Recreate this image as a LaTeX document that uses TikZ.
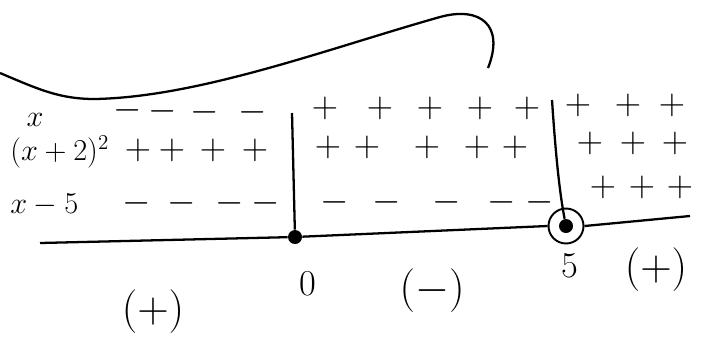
\documentclass[tikz,border=0pt]{standalone}
\usetikzlibrary{positioning}
\begin{document}
\begin{tikzpicture}[
  x=0.02cm, y=-0.02cm,
  rule/.style={line width=1.3pt},
  lbl/.style={font=\LARGE,inner sep=0pt},
  sgn/.style={font=\huge,inner sep=0pt},
  res/.style={font=\fontsize{25}{30}\selectfont,inner sep=0pt},
  pt/.style={font=\huge,inner sep=0pt},
  dot/.style={circle,fill=black,inner sep=0pt,minimum size=0.28cm},
  ring/.style={circle,draw,line width=1.1pt,inner sep=0pt,minimum size=0.7cm}]
\useasboundingbox (0,0) rectangle (715,349);
% torn edge at the top
\draw[rule] (0,73) .. controls (40,90) and (60,99) .. (95,99)
  .. controls (200,97) and (330,48) .. (440,17)
  .. controls (480,6) and (505,25) .. (488,68);
% row labels
\node[lbl] (lx) at (35,120) {$x$};
\node[lbl,anchor=west] (lsq) at (10,152) {$(x+2)^2$};
\node[lbl,anchor=west] (lxm) at (10,205) {$x-5$};
% signs of x
\foreach \n/\x/\y in {1/128/110,2/163/111,3/205/112,4/253/112}
  \node[sgn] (xL\n) at (\x,\y) {$-$};
\foreach \n/\x in {1/325,2/380,3/430,4/480,5/527}
  \node[sgn] (xM\n) at (\x,108) {$+$};
\foreach \n/\x in {1/578,2/628,3/672}
  \node[sgn] (xR\n) at (\x,105) {$+$};
% signs of (x+2)^2
\foreach \n/\x in {1/138,2/172,3/213,4/255}
  \node[sgn] (sL\n) at (\x,150) {$+$};
\foreach \n/\x in {1/328,2/367,3/427,4/477,5/515}
  \node[sgn] (sM\n) at (\x,147) {$+$};
\foreach \n/\x in {1/590,2/633,3/675}
  \node[sgn] (sR\n) at (\x,143) {$+$};
% signs of x-5
\foreach \n/\x in {1/137,2/182,3/230,4/266}
  \node[sgn] (mL\n) at (\x,203) {$-$};
\foreach \n/\x in {1/335,2/387,3/447,4/502,5/540}
  \node[sgn] (mM\n) at (\x,202) {$-$};
\foreach \n/\x in {1/603,2/642,3/680}
  \node[sgn] (mR\n) at (\x,187) {$+$};
% number line
\node[dot] (z0) at (295,237) {};
\node[dot] (z5) at (566,226) {};
\node[ring] (c5) at (z5) {};
\coordinate (nl) at (40,243);
\coordinate (nr) at (690,216);
\coordinate (t0) at (292,113);
\coordinate (t5) at (552,100);
\draw[rule] (nl) -- (z0) -- (c5.west);
\draw[rule] (c5.east) -- (nr);
\draw[rule] (t0) -- (z0);
\draw[rule] (t5) .. controls (556,160) and (560,195) .. (z5);
% points and signs of the product
\node[pt] (p0) at (308,284) {0};
\node[pt] (p5) at (570,266) {5};
\node[res] (rL) at (153,312) {$(+)$};
\node[res] (rM) at (432,291) {$(-)$};
\node[res] (rR) at (656,270) {$(+)$};
\end{tikzpicture}
\end{document}
